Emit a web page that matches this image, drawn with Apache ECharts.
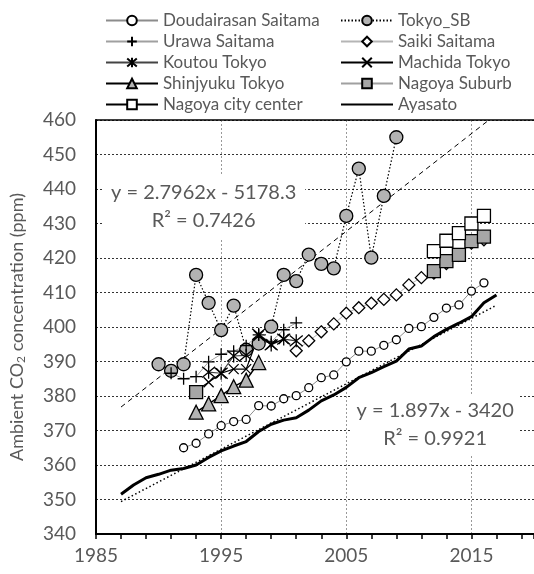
<!DOCTYPE html>
<html>
<head>
<meta charset="utf-8">
<script src="https://cdn.jsdelivr.net/npm/echarts@6/dist/echarts.min.js"></script>
<style>
  html, body { margin: 0; padding: 0; background: #fff; }
  #main { width: 534px; height: 574px; }
</style>
</head>
<body>
<div id="main"></div>
<script>
// data
var doudairasanYears = [1992, 1993, 1994, 1995, 1996, 1997, 1998, 1999, 2000, 2001, 2002, 2003, 2004, 2005, 2006, 2007, 2008, 2009, 2010, 2011, 2012, 2013, 2014, 2015, 2016];
var doudairasanVals = [365.0, 366.3, 369.0, 371.4, 372.6, 373.2, 377.2, 377.1, 379.2, 380.1, 382.4, 385.3, 386.1, 389.9, 393.0, 393.0, 394.7, 396.3, 399.6, 400.1, 402.8, 405.5, 406.4, 410.4, 412.8];

var tokyoSbYears = [1990, 1991, 1992, 1993, 1994, 1995, 1996, 1997, 1998, 1999, 2000, 2001, 2002, 2003, 2004, 2005, 2006, 2007, 2008, 2009];
var tokyoSbVals = [389.2, 387.3, 389.2, 415.1, 407.0, 399.1, 406.2, 393.4, 395.2, 400.1, 415.1, 413.3, 421.0, 418.3, 417.0, 432.2, 445.9, 420.1, 438.0, 455.0];

var urawaYears = [1991, 1992, 1993, 1994, 1995, 1996, 1997, 1998, 1999, 2000, 2001];
var urawaVals = [386.6, 385.0, 385.6, 389.9, 392.1, 393.0, 394.6, 397.7, 395.7, 399.2, 401.2];

var saikiYears = [2001, 2002, 2003, 2004, 2005, 2006, 2007, 2008, 2009, 2010, 2011, 2012, 2013, 2014, 2015, 2016];
var saikiVals = [393.1, 396.0, 398.6, 400.9, 404.0, 405.6, 406.9, 408.0, 409.3, 412.2, 414.3, 415.6, 418.4, 420.8, 424.3, 425.3];

var koutouYears = [1994, 1995, 1996, 1997, 1998, 1999, 2000, 2001];
var koutouVals = [386.9, 386.6, 391.6, 391.8, 397.9, 394.8, 396.5, 396.0];

var machidaYears = [1993, 1994, 1995, 1996, 1997, 1998, 1999, 2000];
var machidaVals = [381.5, 384.0, 386.6, 387.8, 387.8, 397.5, 395.0, 396.5];

var shinjyukuYears = [1993, 1994, 1995, 1996, 1997, 1998];
var shinjyukuVals = [375.3, 377.7, 380.1, 382.7, 384.6, 389.7];

var nagoyaSubYears = [1993, 2012, 2013, 2014, 2015, 2016];
var nagoyaSubVals = [381.1, 416.2, 419.1, 420.9, 424.9, 426.2];

var nagoyaCenYears = [2012, 2013, 2014, 2015, 2016];
var nagoyaCenVals = [422.0, 425.0, 427.2, 430.0, 432.2];

var ayasatoYears = [1987, 1988, 1989, 1990, 1991, 1992, 1993, 1994, 1995, 1996, 1997, 1998, 1999, 2000, 2001, 2002, 2003, 2004, 2005, 2006, 2007, 2008, 2009, 2010, 2011, 2012, 2013, 2014, 2015, 2016, 2017];
var ayasatoVals = [351.5, 354.2, 356.3, 357.3, 358.5, 359.0, 360.0, 362.2, 364.1, 365.5, 366.8, 369.7, 371.8, 373.0, 373.7, 375.9, 378.6, 380.3, 382.5, 385.3, 386.8, 388.5, 390.1, 393.6, 394.5, 397.2, 399.3, 401.1, 403.0, 407.0, 409.3];

// trend lines (end points)
var tokyoTrendX = [1987, 2016.4];
var tokyoTrendY = [376.8, 460];
var ayasatoTrendX = [1987, 2017];
var ayasatoTrendY = [349.4, 406.3];

var tokyoEq = 'y = 2.7962x - 5178.3\nR² = 0.7426';
var ayasatoEq = 'y = 1.897x - 3420\nR² = 0.9921';

var FONT = 'Lato';
var TXT = '#595959';

var PLUS = 'path://M5,0L5,10M0,5L10,5';
var CROSS = 'path://M0,0L10,10M10,0L0,10';
var STAR = 'path://M0,0L10,10M10,0L0,10M5,-1L5,11';

function pairs(xs, ys) {
  var out = [];
  for (var i = 0; i < xs.length; i++) {
    out.push([xs[i], ys[i]]);
  }
  return out;
}

// the 1993 point stands alone
function withGap(xs, ys) {
  var out = [];
  for (var i = 0; i < xs.length; i++) {
    if (i > 0 && xs[i] - xs[i - 1] > 5) {
      out.push([(xs[i] + xs[i - 1]) / 2, '-']);
    }
    out.push([xs[i], ys[i]]);
  }
  return out;
}

function lineSeries(name, data, symbol, size, fill, lineColor, lineWidth, lineType) {
  return {
    name: name,
    type: 'line',
    data: data,
    symbol: symbol,
    symbolSize: size,
    showAllSymbol: true,
    connectNulls: false,
    lineStyle: { color: lineColor, width: lineWidth, type: lineType || 'solid' },
    itemStyle: { color: fill, borderColor: '#000', borderWidth: 1.3 },
    emphasis: { disabled: true },
    animation: false
  };
}

function eqLabel(x, y, text, padH) {
  return {
    symbol: 'circle',
    symbolSize: 1,
    itemStyle: { color: 'rgba(0,0,0,0)' },
    label: {
      show: true,
      position: 'inside',
      formatter: text,
      color: TXT,
      fontFamily: FONT,
      fontSize: 20,
      lineHeight: 28,
      align: 'center',
      backgroundColor: '#fff',
      padding: [3, padH]
    },
    data: [{ coord: [x, y] }]
  };
}

var chart = echarts.init(document.getElementById('main'));

var legendText = { color: TXT, fontFamily: FONT, fontSize: 17 };

var option = {
  animation: false,
  textStyle: { fontFamily: FONT },
  grid: { left: 91, top: 120, right: 0, bottom: 40, containLabel: false },
  legend: [
    {
      data: ['Doudairasan Saitama', 'Urawa Saitama', 'Koutou Tokyo', 'Shinjyuku Tokyo', 'Nagoya city center'],
      orient: 'vertical', left: 100, top: 7,
      itemWidth: 52, itemHeight: 12, itemGap: 4,
      textStyle: legendText, selectedMode: false
    },
    {
      data: ['Tokyo_SB', 'Saiki Saitama', 'Machida Tokyo', 'Nagoya Suburb',
        { name: 'Ayasato', itemStyle: { opacity: 0 } }],
      orient: 'vertical', left: 335, top: 7,
      itemWidth: 52, itemHeight: 12, itemGap: 4,
      textStyle: legendText, selectedMode: false
    }
  ],
  xAxis: [
    {
      type: 'value', min: 1985, max: 2020, interval: 10,
      axisLine: { lineStyle: { color: '#000', width: 2 } },
      axisTick: { show: true, length: 5, lineStyle: { color: '#000', width: 1.5 } },
      minorTick: { show: true, splitNumber: 5, length: 5, lineStyle: { color: '#000', width: 1.5 } },
      axisLabel: {
        color: TXT, fontFamily: FONT, fontSize: 19, margin: 12, showMaxLabel: false,
        formatter: function (v) { return String(v); }
      },
      splitLine: { show: true, lineStyle: { color: '#999', width: 1, type: [2, 2] } }
    },
    {
      type: 'value', position: 'top', min: 1985, max: 2020,
      axisLine: { lineStyle: { color: '#000', width: 1.5 } },
      axisTick: { show: false }, axisLabel: { show: false }, splitLine: { show: false }
    }
  ],
  yAxis: {
    type: 'value', min: 340, max: 460, interval: 10,
    name: 'Ambient CO{sub|2} concentration (ppm)',
    nameLocation: 'middle', nameGap: 69, nameRotate: 90,
    nameTextStyle: {
      color: TXT, fontFamily: FONT, fontSize: 18,
      rich: { sub: { fontSize: 12, verticalAlign: 'bottom', padding: [8, 0, 0, 0], color: TXT, fontFamily: FONT } }
    },
    axisLine: { show: true, lineStyle: { color: '#000', width: 2 } },
    axisTick: { show: false },
    axisLabel: { color: TXT, fontFamily: FONT, fontSize: 19, margin: 20 },
    splitLine: { show: true, lineStyle: { color: '#333', width: 1, type: [2, 2] } }
  },
  series: [
    lineSeries('Doudairasan Saitama', pairs(doudairasanYears, doudairasanVals), 'circle', 8, '#fff', '#8c8c8c', 1),
    lineSeries('Tokyo_SB', pairs(tokyoSbYears, tokyoSbVals), 'circle', 13, '#b3b3b3', '#000', 1.2, [1.5, 2]),
    lineSeries('Urawa Saitama', pairs(urawaYears, urawaVals), PLUS, 12, '#000', '#a0a0a0', 1),
    lineSeries('Saiki Saitama', pairs(saikiYears, saikiVals), 'diamond', 12, '#fff', '#b5b5b5', 1),
    lineSeries('Koutou Tokyo', pairs(koutouYears, koutouVals), STAR, 13, '#000', '#444', 1.2),
    lineSeries('Machida Tokyo', pairs(machidaYears, machidaVals), CROSS, 10, '#000', '#000', 1.2),
    lineSeries('Shinjyuku Tokyo', pairs(shinjyukuYears, shinjyukuVals), 'triangle', 14, '#b3b3b3', '#000', 1.5),
    lineSeries('Nagoya Suburb', withGap(nagoyaSubYears, nagoyaSubVals), 'rect', 13, '#a6a6a6', '#a0a0a0', 1),
    lineSeries('Nagoya city center', pairs(nagoyaCenYears, nagoyaCenVals), 'rect', 13, '#fff', '#000', 1),
    {
      name: 'Ayasato', type: 'line', data: pairs(ayasatoYears, ayasatoVals),
      symbol: 'none', lineStyle: { color: '#000', width: 3 },
      itemStyle: { color: '#000' }, emphasis: { disabled: true }, animation: false
    },
    {
      name: 'tokyoTrend', type: 'line', data: pairs(tokyoTrendX, tokyoTrendY),
      symbol: 'none', lineStyle: { color: '#000', width: 1, type: [5, 4] },
      emphasis: { disabled: true }, animation: false,
      markPoint: eqLabel(1993.6, 434.8, tokyoEq, 9)
    },
    {
      name: 'ayasatoTrend', type: 'line', data: pairs(ayasatoTrendX, ayasatoTrendY),
      symbol: 'none', lineStyle: { color: '#000', width: 1.5, type: [1.5, 2.5] },
      emphasis: { disabled: true }, animation: false,
      markPoint: eqLabel(2012.1, 371.6, ayasatoEq, 6)
    }
  ]
};

chart.setOption(option);
</script>
</body>
</html>
